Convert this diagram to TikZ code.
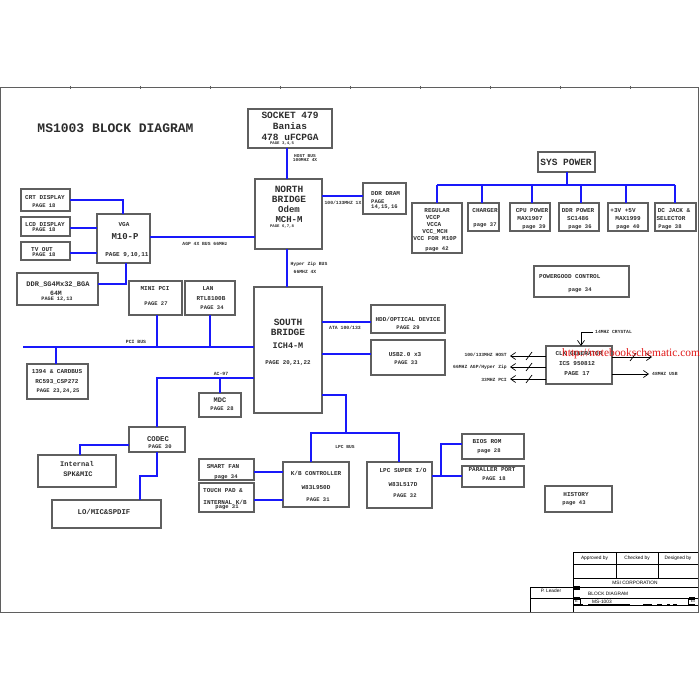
\documentclass[tikz,border=0pt]{standalone}
\usepackage{fontspec}
\setmainfont{Liberation Serif}
\newfontfamily\cour{Liberation Mono}
\newfontfamily\arl{Liberation Sans}
\usetikzlibrary{arrows.meta}
\definecolor{boxc}{RGB}{95,95,95}
\definecolor{busc}{RGB}{25,25,250}
\definecolor{txtc}{RGB}{45,45,45}
\definecolor{wmc}{RGB}{225,25,25}
\newcommand\mybox[5]{\node[box,anchor=north west,minimum width={(#4)-(#2)},minimum height={(#5)-(#3)}] (#1) at (#2,#3) {};}
\begin{document}
\begin{tikzpicture}[x=1pt,y=-1pt,
  box/.style={draw=boxc,line width=1.3pt,fill=white,inner sep=0pt,outer sep=0pt},
  bus/.style={draw=busc,line width=2pt},
  t/.style={font=\cour\bfseries\fontsize{#1}{#1}\selectfont,inner sep=0pt,text=txtc},
  tb/.style={font=\arl\fontsize{#1}{#1}\selectfont,inner sep=0pt,text=black},
  tline/.style={draw=black,line width=0.6pt},
  clk/.style={draw=black,line width=0.7pt},
  clkarr/.style={clk,-{Straight Barb[length=5pt,width=7pt]}}]
\fill[white] (0,0) rectangle (700,700);
\useasboundingbox (0,0) rectangle (700,700);
% frame
\draw[boxc,line width=1pt] (0.7,88) rectangle (698,612);
\foreach \k in {1,...,9} \draw[boxc,line width=0.8pt] (70*\k,86) -- (70*\k,89);
\node[t=13] (title) at (115.5,128) {MS1003 BLOCK DIAGRAM};

% ---------------- boxes
\mybox{socket}{248}{109}{332}{148}
\mybox{nb}{255}{179}{322}{249}
\mybox{ddr}{363}{183}{406}{214}
\mybox{sb}{254}{287}{322}{413}
\mybox{hdd}{371}{305}{445}{333}
\mybox{usb}{371}{340}{445}{375}
\mybox{kbc}{283}{462}{349}{507}
\mybox{lpc}{367}{462}{432}{508}
\mybox{bios}{462}{434}{524}{459}
\mybox{par}{462}{466}{524}{487}
\mybox{fan}{199}{459}{254}{480}
\mybox{touch}{199}{483}{254}{512}
\mybox{minipci}{129}{281}{182}{315}
\mybox{lan}{185}{281}{235}{315}
\mybox{fw}{27}{364}{88}{399}
\mybox{mdc}{199}{393}{241}{417}
\mybox{codec}{129}{427}{185}{452}
\mybox{spk}{38}{455}{116}{487}
\mybox{lo}{52}{500}{161}{528}
\mybox{vga}{97}{214}{150}{263}
\mybox{crt}{21}{189}{70}{211}
\mybox{lcd}{21}{217}{70}{236}
\mybox{tv}{21}{242}{70}{260}
\mybox{ddrsg}{17}{273}{98}{305}
\mybox{syspwr}{538}{152}{595}{172}
\mybox{reg}{412}{203}{462}{253}
\mybox{chg}{468}{203}{499}{231}
\mybox{cpup}{510}{203}{550}{231}
\mybox{ddrp}{559}{203}{599}{231}
\mybox{p35}{608}{203}{648}{231}
\mybox{dcj}{655}{203}{696}{231}
\mybox{pg}{534}{266}{629}{297}
\mybox{clkg}{546}{346}{612}{384}
\mybox{hist}{545}{486}{612}{512}

% ---------------- texts
\node[t=9.5] (socket1) at (290,115) {SOCKET 479};
\node[t=9.5] (socket2) at (290,126) {Banias};
\node[t=9.5] (socket3) at (290,137) {478 uFCPGA};
\node[t=4] (socket4) at (282,144) {PAGE 3,4,5};
\node[t=4.5] (host1) at (305,156) {HOST BUS};
\node[t=4.5] (host2) at (305,160.5) {100MHZ  4X};

\node[t=9.5] (nb1) at (289,189) {NORTH};
\node[t=9.5] (nb2) at (289,199) {BRIDGE};
\node[t=9] (nb3) at (289,209) {Odem};
\node[t=9] (nb4) at (289,219.5) {MCH-M};
\node[t=4] (nb5) at (282,227) {PAGE 6,7,8};

\node[t=6,anchor=west] (ddr1) at (371,194) {DDR DRAM};
\node[t=5.5,anchor=west] (ddr2) at (371,202) {PAGE};
\node[t=5.5,anchor=west] (ddr3) at (371,207.5) {14,15,16};
\node[t=4.7] (ddrl) at (343,203) {100/133MHZ  1X};
\node[t=4.7] (agpl) at (205,244) {AGP 4X BUS 66MHz};
\node[t=4.7] (hz1) at (309,264.5) {Hyper Zip BUS};
\node[t=4.7] (hz2) at (305,272) {66MHZ  4X};

\node[t=9.5] (sb1) at (288,322) {SOUTH};
\node[t=9.5] (sb2) at (288,332) {BRIDGE};
\node[t=8.5] (sb3) at (288,346) {ICH4-M};
\node[t=5.8] (sb4) at (288,363) {PAGE 20,21,22};
\node[t=4.8] (atal) at (345,328) {ATA 100/133};
\node[t=6] (hdd1) at (408,319.5) {HDD/OPTICAL DEVICE};
\node[t=5.5] (hdd2) at (408,328) {PAGE 29};
\node[t=6] (usb1) at (405,355) {USB2.0 x3};
\node[t=5.5] (usb2) at (406,363) {PAGE 33};

\node[t=4.6] (lpcl) at (345,447) {LPC BUS};
\node[t=6] (kbc1) at (316,473) {K/B CONTROLLER};
\node[t=6] (kbc2) at (316,488) {W83L950D};
\node[t=5.5] (kbc3) at (318,500) {PAGE 31};
\node[t=6] (lpc1) at (403,470) {LPC SUPER I/O};
\node[t=6] (lpc2) at (403,484.5) {W83L517D};
\node[t=5.5] (lpc3) at (405,496) {PAGE 32};
\node[t=6] (bios1) at (487,442) {BIOS ROM};
\node[t=5.5] (bios2) at (489,451) {page 28};
\node[t=6] (par1) at (492,470) {PARALLER PORT};
\node[t=5.5] (par2) at (494,479) {PAGE 18};
\node[t=6] (fan1) at (223,467) {SMART FAN};
\node[t=5.5] (fan2) at (226,477) {page 34};
\node[t=6] (touch1) at (223,491) {TOUCH PAD \&};
\node[t=6] (touch2) at (225,502) {INTERNAL K/B};
\node[t=5.5] (touch3) at (227,507.5) {page 31};

\node[t=6] (mp1) at (155,289) {MINI PCI};
\node[t=5.5] (mp2) at (156,304) {PAGE 27};
\node[t=6] (lan1) at (208,289) {LAN};
\node[t=6] (lan2) at (211,298.5) {RTL8100B};
\node[t=5.5] (lan3) at (212,308) {PAGE 34};
\node[t=4.8] (pcil) at (136,342) {PCI BUS};
\node[t=6] (fw1) at (57,372) {1394 \& CARDBUS};
\node[t=6] (fw2) at (57,382) {RC593\_CSP272};
\node[t=5.5] (fw3) at (58,391) {PAGE 23,24,25};
\node[t=4.8] (acl) at (221,374) {AC-97};
\node[t=7] (mdc1) at (220,400) {MDC};
\node[t=5.5] (mdc2) at (222,409) {PAGE 28};
\node[t=7.3] (codec1) at (158,439) {CODEC};
\node[t=5.5] (codec2) at (160,447) {PAGE 30};
\node[t=7] (spk1) at (77,463.5) {Internal};
\node[t=7] (spk2) at (78,474) {SPK\&MIC};
\node[t=7.3] (lo1) at (104,512) {LO/MIC\&SPDIF};

\node[t=6] (vga1) at (124,225) {VGA};
\node[t=9] (vga2) at (125,237) {M10-P};
\node[t=6] (vga3) at (127,255) {PAGE 9,10,11};
\node[t=6] (crt1) at (45,198) {CRT DISPLAY};
\node[t=5.5] (crt2) at (44,206) {PAGE 18};
\node[t=6] (lcd1) at (45,225) {LCD DISPLAY};
\node[t=5.5] (lcd2) at (44,230) {PAGE 18};
\node[t=6] (tv1) at (42,249.5) {TV OUT};
\node[t=5.5] (tv2) at (44,255) {PAGE 18};
\node[t=7] (dsg1) at (58,284.5) {DDR\_SG4Mx32\_BGA};
\node[t=6.5] (dsg2) at (56,293.5) {64M};
\node[t=5.2] (dsg3) at (57,299.5) {PAGE 12,13};

\node[t=9.5] (sp1) at (566,162) {SYS POWER};
\node[t=6] (reg1) at (437,211) {REGULAR};
\node[t=6] (reg2) at (433,218) {VCCP};
\node[t=6] (reg3) at (434,225) {VCCA};
\node[t=6] (reg4) at (435,232) {VCC\_MCH};
\node[t=6] (reg5) at (435,239) {VCC FOR M10P};
\node[t=5.5] (reg6) at (437,249) {page 42};
\node[t=6] (chg1) at (485,211) {CHARGER};
\node[t=5.5] (chg2) at (485,225) {page 37};
\node[t=6] (cpu1) at (532,211) {CPU POWER};
\node[t=6] (cpu2) at (530,218.5) {MAX1907};
\node[t=5.5] (cpu3) at (534,227) {page 39};
\node[t=6] (ddp1) at (578,211) {DDR POWER};
\node[t=6] (ddp2) at (578,218.5) {SC1486};
\node[t=5.5] (ddp3) at (580,227) {page 36};
\node[t=6] (p351) at (623,211) {+3V +5V};
\node[t=6] (p352) at (628,218.5) {MAX1999};
\node[t=5.5] (p353) at (628,227) {page 40};
\node[t=6] (dcj1) at (674,211) {DC JACK \&};
\node[t=6] (dcj2) at (671,218.5) {SELECTOR};
\node[t=5.5] (dcj3) at (670,227) {Page 38};
\node[t=6,anchor=west] (pg1) at (539,277) {POWERGOOD CONTROL};
\node[t=5.5] (pg2) at (580,290) {page 34};

\node[t=6] (clk1) at (579,354) {CLK GENERATOR};
\node[t=6] (clk2) at (577,364) {ICS 950812};
\node[t=6] (clk3) at (577,373.5) {PAGE 17};
\node[t=4.7,anchor=west] (xtal) at (595,332) {14MHZ CRYSTAL};
\node[t=4.7,anchor=east] (ck1) at (507,355) {100/133MHZ  HOST};
\node[t=4.7,anchor=east] (ck2) at (507,367) {66MHZ  AGP/Hyper Zip};
\node[t=4.7,anchor=east] (ck3) at (507,379.5) {33MHZ PCI};
\node[t=4.7,anchor=west] (ck4) at (652,374) {48MHZ  USB};

\node[t=6] (hist1) at (576,495) {HISTORY};
\node[t=5.5] (hist2) at (574,503.5) {page 43};

% ---------------- connectors
\draw[bus] (socket.south -| 287,0) -- (nb.north -| 287,0);
\draw[bus] (nb.east |- 0,196) -- (ddr.west |- 0,196);
\draw[bus] (nb.west |- 0,237) -- (vga.east |- 0,237);
\draw[bus] (nb.south -| 287,0) -- (sb.north -| 287,0);
\draw[bus] (crt.east |- 0,200) -| (vga.north -| 123,0);
\draw[bus] (lcd.east |- 0,228) -- (vga.west |- 0,228);
\draw[bus] (tv.east |- 0,253) -- (vga.west |- 0,253);
\draw[bus] (ddrsg.east |- 0,284) -| (vga.south -| 126,0);
% PCI bus
\coordinate (pcistart) at (23,347);
\coordinate (tapmp) at (157,347);
\coordinate (taplan) at (210,347);
\coordinate (tapfw) at (56,347);
\draw[bus] (pcistart) -- (sb.west |- pcistart);
\draw[bus] (minipci.south -| tapmp) -- (tapmp);
\draw[bus] (lan.south -| taplan) -- (taplan);
\draw[bus] (tapfw) -- (fw.north -| tapfw);
% AC97
\coordinate (acc) at (157,378);
\coordinate (tapmdc) at (220,378);
\draw[bus] (sb.west |- acc) -- (acc) -- (codec.north -| acc);
\draw[bus] (tapmdc) -- (mdc.north -| tapmdc);
\draw[bus] (codec.west |- 0,445) -| (spk.north -| 80,0);
\coordinate (cdb) at (157,476);
\draw[bus] (codec.south -| cdb) -- (cdb) -| (lo.north -| 140,0);
% SB right
\draw[bus] (sb.east |- 0,322) -- (hdd.west |- 0,322);
\draw[bus] (sb.east |- 0,354) -- (usb.west |- 0,354);
\coordinate (lpcm) at (346,433);
\coordinate (lpcl) at (311,433);
\coordinate (lpcr) at (399,433);
\draw[bus] (sb.east |- 0,395) -| (lpcm);
\draw[bus] (kbc.north -| lpcl) -- (lpcl) -- (lpcr) -- (lpc.north -| lpcr);
\draw[bus] (fan.east |- 0,472) -- (kbc.west |- 0,472);
\draw[bus] (touch.east |- 0,500) -- (kbc.west |- 0,500);
\coordinate (lpcj) at (441,476);
\draw[bus] (lpc.east |- lpcj) -- (par.west |- lpcj);
\draw[bus] (lpcj) |- (bios.west |- 0,444);
% power
\coordinate (pwc) at (567,185);
\coordinate (pwl) at (437,185);
\coordinate (pwr) at (675,185);
\draw[bus] (syspwr.south -| pwc) -- (pwc);
\draw[bus] (pwl) -- (pwr);
\draw[bus] (pwl) -- (reg.north -| pwl);
\draw[bus] (482,185) -- (chg.north -| 482,0);
\draw[bus] (532,185) -- (cpup.north -| 532,0);
\draw[bus] (581,185) -- (ddrp.north -| 581,0);
\draw[bus] (626,185) -- (p35.north -| 626,0);
\draw[bus] (pwr) -- (dcj.north -| pwr);
% clock
\coordinate (xc) at (581,332);
\draw[clk] (xtal.west) ++(-2,0) -- (xc);
\draw[clkarr] (xc) -- (clkg.north -| xc);
\coordinate (a1) at (510,356);
\coordinate (a2) at (510,367);
\coordinate (a3) at (510,379);
\coordinate (a4) at (652,357);
\coordinate (a5) at (649,374);
\draw[clkarr] (clkg.west |- a1) -- (a1);
\draw[clkarr] (clkg.west |- a2) -- (a2);
\draw[clkarr] (clkg.west |- a3) -- (a3);
\draw[clkarr] (clkg.east |- a4) -- (a4);
\draw[clkarr] (clkg.east |- a5) -- (a5);
\foreach \yy in {356,367,379} \draw[clk] (526,\yy+4) -- (532,\yy-4);
\draw[clk] (630,361) -- (636,353);
% watermark
\node[anchor=west,inner sep=0pt,text=wmc,font=\fontsize{11.4}{11.4}\selectfont] (wm) at (562,354) {http://notebookschematic.com};

% ---------------- title block
\draw[tline] (573,552) -- (698,552);
\draw[tline] (573,564) -- (698,564);
\draw[tline] (573,578) -- (698,578);
\draw[tline] (530,587) -- (698,587);
\draw[tline] (530,598) -- (698,598);
\draw[tline] (573,552) -- (573,612);
\draw[tline] (616,552) -- (616,578);
\draw[tline] (658,552) -- (658,578);
\draw[tline] (530,587) -- (530,612);
\draw[tline] (580,598) -- (580,605);
\draw[tline] (688,598) -- (688,605);
\draw[tline] (573,605) -- (698,605);
\fill[black] (573,586) rectangle (580,590);
\fill[black] (573,597) rectangle (580,600);
\fill[black] (689,597) rectangle (695,600);
\foreach \xa/\xb in {573/583,588/630,643/652,657/662,667/670,673/677,689/695} \fill[black] (\xa,603.5) rectangle (\xb,606);
\node[tb=4.8] (ap) at (594.5,558.5) {Approved by};
\node[tb=4.8] (ch) at (637,558.5) {Checked by};
\node[tb=4.8] (de) at (678,558.5) {Designed by};
\node[tb=4.8] (msi) at (635,583) {MSI CORPORATION};
\node[tb=4.8] (pl) at (551,590.5) {P. Leader};
\node[tb=4.8,anchor=west] (bd) at (588,593.5) {BLOCK DIAGRAM};
\node[tb=4] (ee) at (576.5,601.5) {E};
\node[tb=4.8,anchor=west] (ms) at (592,601.5) {MS-1003};
\node[tb=3.5] (ex) at (693,601.5) {Ex};
\end{tikzpicture}
\end{document}
